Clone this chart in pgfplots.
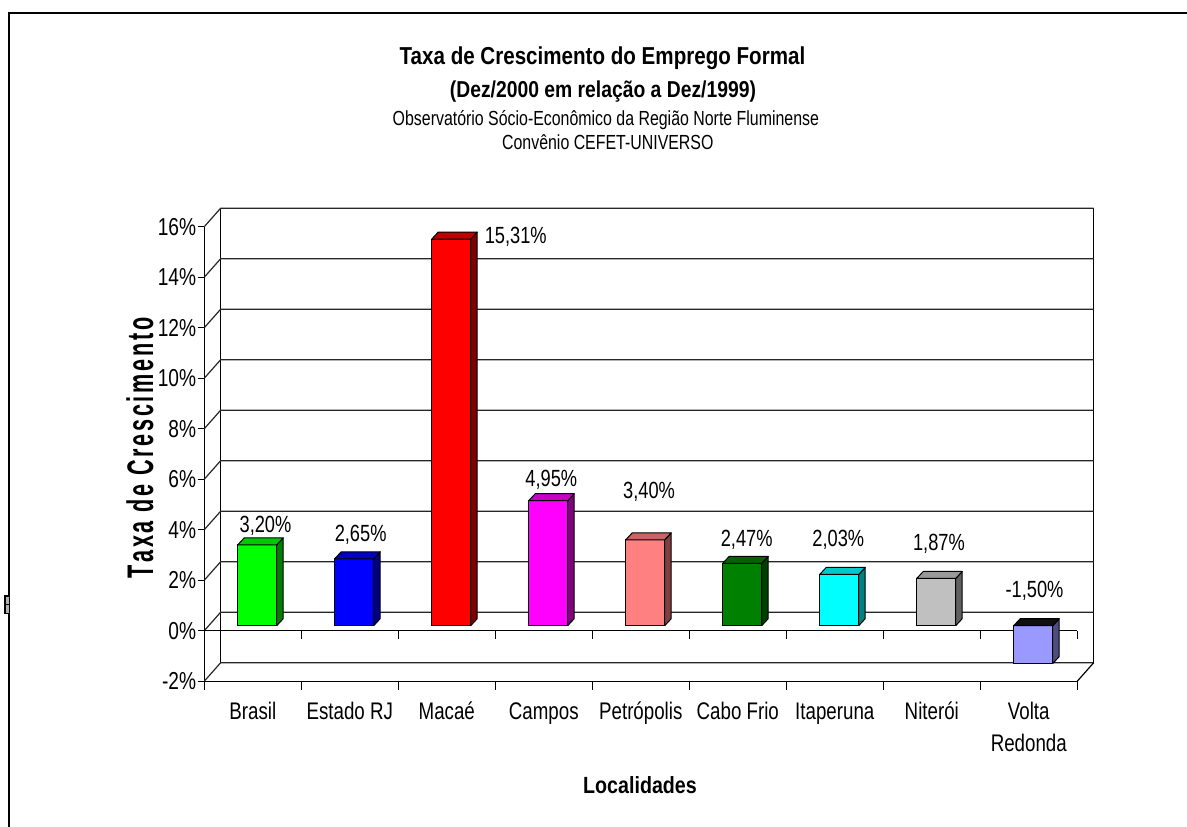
\documentclass[border=0pt]{standalone}
\usepackage{pgfplots}
\pgfplotsset{compat=1.18}
\usepackage{pgfplotstable}
\usepackage{fontspec}
\setmainfont{Liberation Sans}[FakeStretch=0.78]
\newfontfamily\headfont{Liberation Sans}[FakeStretch=0.84]

% front / top / side shades of each column
\definecolor{front0}{HTML}{00FF00}\definecolor{top0}{HTML}{00C800}\definecolor{side0}{HTML}{008000}
\definecolor{front1}{HTML}{0000FF}\definecolor{top1}{HTML}{0000C8}\definecolor{side1}{HTML}{000080}
\definecolor{front2}{HTML}{FF0000}\definecolor{top2}{HTML}{C00000}\definecolor{side2}{HTML}{800000}
\definecolor{front3}{HTML}{FF00FF}\definecolor{top3}{HTML}{C800C8}\definecolor{side3}{HTML}{800080}
\definecolor{front4}{HTML}{FF8080}\definecolor{top4}{HTML}{C86464}\definecolor{side4}{HTML}{804040}
\definecolor{front5}{HTML}{008000}\definecolor{top5}{HTML}{006400}\definecolor{side5}{HTML}{004000}
\definecolor{front6}{HTML}{00FFFF}\definecolor{top6}{HTML}{00C8C8}\definecolor{side6}{HTML}{008080}
\definecolor{front7}{HTML}{C0C0C0}\definecolor{top7}{HTML}{999999}\definecolor{side7}{HTML}{606060}
\definecolor{front8}{HTML}{9999FF}\definecolor{top8}{HTML}{101010}\definecolor{side8}{HTML}{4D4D80}

% idx: category, value: growth in %, lx/ly: where the value label sits
\pgfplotstableread{
idx value lx ly
0  3.20 0.631 3.826
1  2.65 1.612 3.473
2 15.31 3.211 15.27
3  4.95 3.577 5.640
4  3.40 4.585 5.176
5  2.47 5.592 3.287
6  2.03 6.536 3.287
7  1.87 7.574 3.129
8 -1.50 8.559 1.255
}\growthdata

% depth of the back wall, position and size of the 3-D columns
\def\wx{0.169}\def\wy{0.733}
\def\sx{0.0456}\def\sy{0.198}
\def\hw{0.201}
\def\ddx{0.067}\def\ddy{0.277}

% tracked lettering for the vertical axis title
\def\ls{\kern1.8pt}

\begin{document}
\begin{tikzpicture}
\begin{axis}[
  x=48.5pt, y=12.625pt,
  xmin=0, xmax=9, ymin=-2, ymax=16,
  clip=false,
  axis x line*=bottom, axis y line*=left,
  axis line style={black, line width=0.6pt},
  tick align=outside,
  /pgf/number format/assume math mode=true,
  ytick={-2,0,2,4,6,8,10,12,14,16},
  yticklabel={\pgfmathprintnumber{\tick}\%},
  yticklabel style={font=\fontsize{12.25}{14}\selectfont, inner xsep=0.6pt},
  ytick style={black, line width=0.6pt},
  major tick length=3.3pt,
  minor tick length=4.35pt,
  xtick={0.5,1.5,2.5,3.5,4.5,5.5,6.5,7.5,8.5},
  xticklabels={Brasil, Estado RJ, Macaé, Campos, Petrópolis, Cabo Frio, Itaperuna, Niterói, {Volta\\Redonda}},
  typeset ticklabels with strut,
  xticklabel style={font=\fontsize{12}{15.85}\selectfont, align=center, yshift=-1.4pt},
  major x tick style={draw=none},
  minor xtick={0,1,2,3,4,5,6,7,8,9},
  minor x tick style={black, line width=0.6pt},
  xlabel={Localidades},
  xlabel style={at={(axis description cs:0.4991,-0.2461)}, anchor=base,
    font=\headfont\bfseries\fontsize{11.7}{14}\selectfont},
  ylabel={\scalebox{0.75}[1]{\fontsize{18.5}{20}\selectfont\bfseries
    T\ls a\ls x\ls a\ls{} d\ls e\ls{} C\ls r\ls e\ls s\ls c\ls i\ls m\ls e\ls n\ls t\ls o}},
  ylabel style={at={(axis description cs:-0.0737,0.5131)}, anchor=center},
]

% back wall and its gridlines
\draw[line width=0.6pt, fill=white] (axis cs:\wx,-2+\wy) rectangle (axis cs:9+\wx,16+\wy);
\pgfplotsinvokeforeach{-2,0,2,4,6,8,10,12,14,16}{
  \draw[line width=0.6pt, black!85] (axis cs:0,#1) -- ++(axis direction cs:\wx,\wy) -- ++(axis direction cs:9,0);
}
% floor corner and the category line at zero
\draw[line width=0.6pt] (axis cs:9,-2) -- ++(axis direction cs:\wx,\wy);
\draw[line width=0.6pt] (axis cs:0,0) -- (axis cs:9,0);
\pgfplotsinvokeforeach{1,2,3,4,5,6,7,8,9}{
  \draw[line width=0.6pt] (axis cs:#1,0) -- ++(0pt,-4.35pt);
}

% 3-D columns: front, side and top faces
\pgfplotsinvokeforeach{0,1,2,3,4,5,6,7,8}{
  \pgfplotstablegetelem{#1}{value}\of\growthdata
  \let\val\pgfplotsretval
  \pgfmathsetmacro\xl{#1+0.5+\sx-\hw}
  \pgfmathsetmacro\xr{#1+0.5+\sx+\hw}
  \pgfmathsetmacro\yt{max(\val,0)+\sy}
  \pgfmathsetmacro\yb{min(\val,0)+\sy}
  \pgfmathsetmacro\xlr{\xl+\ddx}
  \pgfmathsetmacro\xrr{\xr+\ddx}
  \pgfmathsetmacro\ytr{\yt+\ddy}
  \pgfmathsetmacro\ybr{\yb+\ddy}
  \edef\column{%
    \noexpand\addplot[forget plot, draw=black, line width=0.5pt, line join=round, fill=front#1]
      coordinates {(\xl,\yb) (\xr,\yb) (\xr,\yt) (\xl,\yt) (\xl,\yb)};
    \noexpand\addplot[forget plot, draw=black, line width=0.5pt, line join=round, fill=side#1]
      coordinates {(\xr,\yb) (\xrr,\ybr) (\xrr,\ytr) (\xr,\yt) (\xr,\yb)};
    \noexpand\addplot[forget plot, draw=black, line width=0.5pt, line join=round, fill=top#1]
      coordinates {(\xl,\yt) (\xr,\yt) (\xrr,\ytr) (\xlr,\ytr) (\xl,\yt)};
  }%
  \column
}

% value labels
\addplot[draw=none, mark=none, point meta=explicit,
  nodes near coords={\smash{\pgfmathprintnumber[fixed,fixed zerofill,precision=2,use comma]{\pgfplotspointmeta}\%}},
  every node near coord/.append style={font=\fontsize{11.7}{14}\selectfont, inner sep=0pt, anchor=south}]
  table[x=lx, y=ly, meta=value]{\growthdata};

% titles
\node[anchor=base, font=\headfont\bfseries\fontsize{12.25}{14}\selectfont] at (axis cs:4.105,22.43) {Taxa de Crescimento do Emprego Formal};
\node[anchor=base, font=\headfont\bfseries\fontsize{11.5}{14}\selectfont] at (axis cs:4.11,21.11) {(Dez/2000 em relação a Dez/1999)};
\node[anchor=base, font=\fontsize{10.2}{12}\selectfont] at (axis cs:4.14,20.00) {Observatório Sócio-Econômico da Região Norte Fluminense};
\node[anchor=base, font=\fontsize{10.2}{12}\selectfont] at (axis cs:4.16,19.04) {Convênio CEFET-UNIVERSO};

% chart area border
\draw[line width=1pt] (axis cs:-2.018,-7.9) -- (axis cs:-2.018,24.463) -- (axis cs:10.2,24.463);
\draw[line width=0.6pt, fill=black!30] (axis cs:-2.055,0.689) rectangle (axis cs:-2.010,1.374);
\draw[line width=0.4pt] (axis cs:-2.055,1.03) -- (axis cs:-2.010,1.03);

\coordinate (pageTL) at (axis cs:-2.106,24.978);
\coordinate (pageBR) at (axis cs:10.131,-7.774);
\end{axis}
\pgfresetboundingbox
\useasboundingbox (pageTL) rectangle (pageBR);
\end{tikzpicture}
\end{document}
